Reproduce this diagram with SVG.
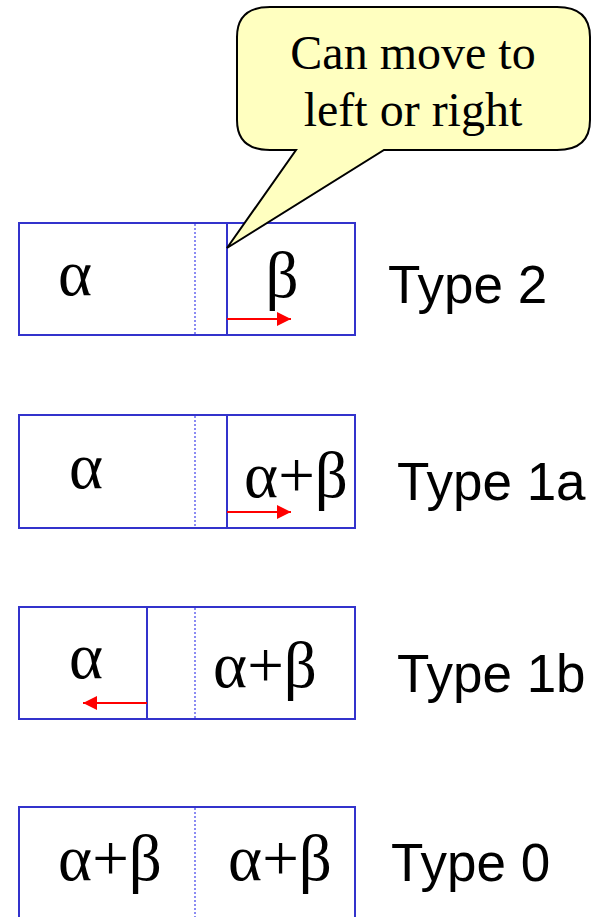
<svg xmlns="http://www.w3.org/2000/svg" width="602" height="917" viewBox="0 0 602 917">
<defs>
<style>
.box{fill:#fff;stroke:#3333CC;stroke-width:2}
.sol{stroke:#3333CC;stroke-width:2}
.dot{stroke:#6666EE;stroke-width:1.5;stroke-dasharray:2 2}
.gr{font-family:"Liberation Serif","DejaVu Serif",serif;font-size:65px;fill:#000;text-anchor:middle}
.lab{font-family:"Liberation Sans",Arial,sans-serif;font-size:53px;fill:#000}
.call{font-family:"Liberation Serif","Times New Roman",serif;font-size:48px;fill:#000;text-anchor:middle}
.arr{stroke:#FF0000;stroke-width:2;fill:none}
</style>
<marker id="ah" viewBox="0 0 14 14" refX="14" refY="7" markerWidth="14" markerHeight="14" markerUnits="userSpaceOnUse" orient="auto">
<path d="M0 0 L14 7 L0 14 Z" fill="#FF0000"/>
</marker>
</defs>
<g id="type2">
<rect class="box" x="19" y="223" width="336" height="112"/>
<line class="dot" x1="195" y1="224" x2="195" y2="334"/>
<line class="sol" x1="227" y1="223" x2="227" y2="335"/>
<text class="gr" x="75" y="295">α</text>
<text class="gr" x="282" y="297">β</text>
<text class="lab" x="388" y="303">Type 2</text>
</g>
<g id="type1a">
<rect class="box" x="19" y="415" width="336" height="113"/>
<line class="dot" x1="195" y1="416" x2="195" y2="527"/>
<line class="sol" x1="227" y1="415" x2="227" y2="528"/>
<text class="gr" x="86" y="488">α</text>
<text class="gr" x="296" y="497">α+β</text>
<text class="lab" x="397" y="500">Type 1a</text>
</g>
<g id="type1b">
<rect class="box" x="19" y="607" width="336" height="112"/>
<line class="dot" x1="195" y1="608" x2="195" y2="718"/>
<line class="sol" x1="147" y1="607" x2="147" y2="719"/>
<text class="gr" x="86" y="678">α</text>
<text class="gr" x="265" y="687">α+β</text>
<text class="lab" x="397" y="692">Type 1b</text>
</g>
<g id="type0">
<rect class="box" x="19" y="807" width="336" height="130"/>
<line class="dot" x1="195" y1="808" x2="195" y2="917"/>
<text class="gr" x="110" y="880">α+β</text>
<text class="gr" x="280" y="880">α+β</text>
<text class="lab" x="391" y="881">Type 0</text>
</g>
<g id="connectors">
<line class="arr" x1="227" y1="319" x2="291" y2="319" marker-end="url(#ah)"/>
<line class="arr" x1="227" y1="512" x2="291" y2="512" marker-end="url(#ah)"/>
<line class="arr" x1="147" y1="703" x2="83" y2="703" marker-end="url(#ah)"/>
</g>
<g id="callout">
<path d="M270 7 H557 Q590 7 590 37 V120 Q590 150 557 150 H384 L227 248 L296 150 H270 Q237 150 237 120 V37 Q237 7 270 7 Z" fill="#FFFFC0" stroke="#000" stroke-width="2" stroke-linejoin="miter"/>
<text class="call" x="413" y="69">Can move to</text>
<text class="call" x="413" y="126">left or right</text>
</g>
</svg>
